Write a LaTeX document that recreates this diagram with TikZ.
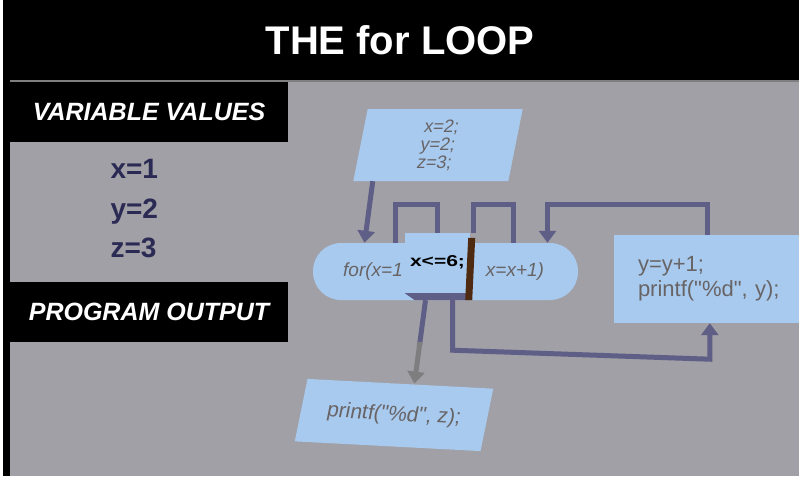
\documentclass[tikz,border=0pt]{standalone}
\usepackage{fontspec}
\setmainfont{Liberation Sans}
\usetikzlibrary{arrows.meta,positioning,calc}
\definecolor{bggray}{RGB}{161,160,166}
\definecolor{boxblue}{RGB}{168,202,238}
\definecolor{slate}{RGB}{94,94,134}
\definecolor{navy}{RGB}{42,42,84}
\definecolor{codegray}{RGB}{104,100,102}
\definecolor{fadegray}{RGB}{126,126,128}
\definecolor{barbrown}{RGB}{78,42,16}

\begin{document}
\begin{tikzpicture}[x=1pt, y=1pt, >={Triangle[width=17pt,length=12pt]},
        flow/.style={line width=5pt,draw=slate},
        panel/.style={fill=black,text=white,inner sep=0pt,minimum width=278pt,minimum height=60pt,
          font=\fontsize{25}{30}\selectfont\bfseries\itshape},
        value/.style={text=navy,anchor=base west,font=\fontsize{28}{32}\selectfont\bfseries},
        codebox/.style={fill=boxblue,text=codegray,inner sep=0pt}]
        \useasboundingbox (0,0) rectangle (799,-476);
        \clip (0,0) rectangle (799,-476);
        \fill[black] (0,0) rectangle (799,-476);
        \fill[white] (0,0) rectangle (3,-476);
        \fill[bggray] (10,-82) rectangle (799,-476);
        \draw[fadegray,line width=2pt] (10,-81) -- (799,-81);
        % header and left panel
        \node[text=white,font=\fontsize{40}{46}\selectfont\bfseries] (title) at (400,-40) {THE for LOOP};
        \node[panel] (varhead) at (149,-112) {VARIABLE VALUES};
        \node[value] (xval) at (107,-178) {x=1};
        \node[value] (yval) at (107,-218) {y=2};
        \node[value] (zval) at (107,-257) {z=3};
        \node[panel] (outhead) at (149,-312) {PROGRAM OUTPUT};
        % flow chart
        \node[codebox,minimum width=155pt,minimum height=72pt,xslant=0.2,transform shape,align=center,
          font=\fontsize{18}{18}\selectfont] (init) at (438,-145) {x=2;\\y=2;\\z=3;};
        \node[fill=boxblue,rounded corners=28pt,minimum width=265pt,minimum height=57pt] (forloop) at (445.5,-271.5) {};
        \node[text=codegray,font=\fontsize{19}{22}\selectfont\itshape] (forinit) at (373,-272) {for(x=1};
        \node[text=codegray,font=\fontsize{19}{22}\selectfont\itshape] (forstep) at (515,-272) {x=x+1)};
        \node[fill=boxblue,inner sep=0pt,minimum width=65pt,minimum height=60pt,
          font=\fontsize{21}{22}\selectfont\bfseries] (cond) at (437.5,-263) {\raisebox{5pt}{\scalebox{1}[0.75]{x<=6;}}};
        \fill[slate] (cond.south west) -- (cond.south east) -- ++(2,-7) -- ([xshift=10pt,yshift=-7pt]cond.south west) -- cycle;
        \fill[barbrown] ([xshift=-2pt,yshift=-5pt]cond.north east) -- ++(7,0) -- ([xshift=2pt,yshift=-7pt]cond.south east) -- ++(-7,0) -- cycle;
        \node[codebox,minimum width=200pt,minimum height=88pt,text width=152pt,align=left,
          font=\fontsize{22}{25}\selectfont] (body) at (714,-279) {y=y+1;\\printf(\textquotedbl\%d\textquotedbl, y);};
        \node[codebox,minimum width=186pt,minimum height=63pt,rotate=-3,xslant=0.15,transform shape,
          font=\fontsize{21}{24}\selectfont] (output) at (394,-415) {printf(\textquotedbl\%d\textquotedbl, z);};
        % connectors
        \draw[flow,->] ([xshift=-58pt]init.south) -- ([xshift=-81pt]forloop.north);
        \draw[flow] ([xshift=-50pt]forloop.north) |- ([yshift=28pt]cond.north) -- (cond.north);
        \draw[flow] ([xshift=68pt]forloop.north) |- ([xshift=36pt,yshift=28pt]cond.north) -- ([xshift=36pt]cond.north);
        \draw[flow,->] ([xshift=94pt]body.north west) |- ([xshift=102pt,yshift=38pt]forloop.north) -- ([xshift=102pt]forloop.north);
        \draw[flow] ([xshift=-12pt,yshift=-7pt]cond.south) -- ($([xshift=-12pt,yshift=-7pt]cond.south)!0.55!([xshift=14pt]output.north)$);
        \draw[flow,draw=fadegray,->] ($([xshift=-12pt,yshift=-7pt]cond.south)!0.5!([xshift=14pt]output.north)$) -- ([xshift=14pt]output.north);
        \draw[flow,->] ([xshift=15pt,yshift=-7pt]cond.south) -- ++(0,-50) -- ([xshift=96pt,yshift=-36pt]body.south west) -- ([xshift=96pt]body.south west);
      \end{tikzpicture}
\end{document}
